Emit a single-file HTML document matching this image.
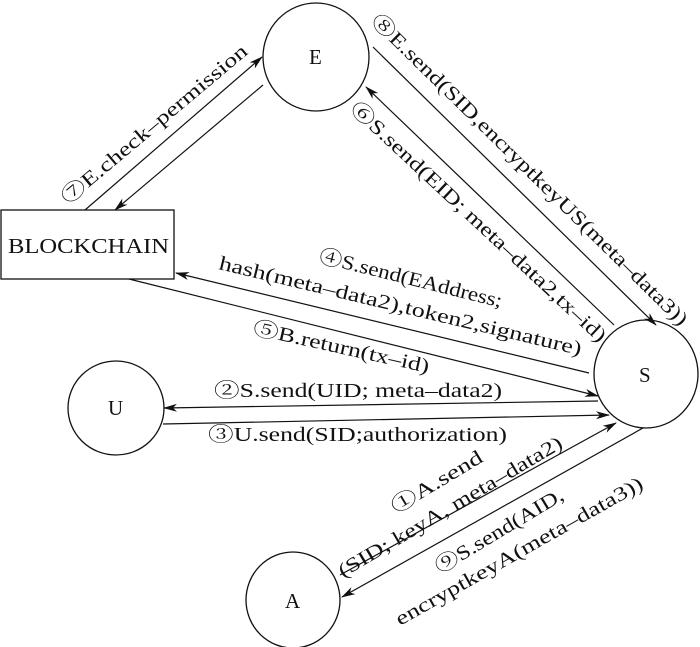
<!DOCTYPE html>
<html><head><meta charset="utf-8"><style>
html,body{margin:0;padding:0;background:#fff;}
svg{display:block;}
text{font-family:"Liberation Serif","Noto Serif CJK SC","DejaVu Serif",serif;font-size:20px;fill:#111;}
</style></head><body>
<svg width="700" height="647" viewBox="0 0 700 647" xmlns="http://www.w3.org/2000/svg">
<defs>
<marker id="ar" markerWidth="14" markerHeight="8" refX="13" refY="4" orient="auto" markerUnits="userSpaceOnUse">
<path d="M0,0 L14,4 L0,8 L4,4 Z" fill="#111"/>
</marker>
</defs>
<g fill="none" stroke="#111" stroke-width="1.3">
<ellipse cx="316" cy="57" rx="53" ry="54"/>
<ellipse cx="646" cy="374" rx="52" ry="54"/>
<ellipse cx="116" cy="408" rx="48" ry="47"/>
<ellipse cx="293" cy="600" rx="47" ry="48"/>
<rect x="1" y="210" width="173" height="69"/>
</g>
<g stroke="#111" stroke-width="1.2" marker-end="url(#ar)">
<line x1="85" y1="210" x2="262" y2="57"/>
<line x1="263" y1="85" x2="115" y2="210"/>
<line x1="373" y1="47" x2="656" y2="325"/>
<line x1="614" y1="325" x2="366" y2="87"/>
<line x1="589" y1="373" x2="176" y2="273"/>
<line x1="129" y1="279" x2="598" y2="396"/>
<line x1="598" y1="401" x2="164" y2="408"/>
<line x1="163" y1="424" x2="609" y2="415"/>
<line x1="340" y1="575" x2="616" y2="423"/>
<line x1="643" y1="428" x2="342" y2="597"/>
</g>
<text style="font-size:21px" transform="translate(8,253)" textLength="161" lengthAdjust="spacingAndGlyphs">BLOCKCHAIN</text>
<text style="font-size:21px" transform="translate(309,64)">E</text>
<text style="font-size:21px" transform="translate(639,382)">S</text>
<text style="font-size:21px" transform="translate(108,415)">U</text>
<text style="font-size:21px" transform="translate(285,608)">A</text>

<text transform="translate(68,205) rotate(-40)" textLength="236" lengthAdjust="spacingAndGlyphs">⑦E.check–permission</text>
<text transform="translate(370,22) rotate(44.5)" textLength="435" lengthAdjust="spacingAndGlyphs">⑧E.send(SID,encryptkeyUS(meta–data3))</text>
<text transform="translate(349,110) rotate(43)" textLength="342" lengthAdjust="spacingAndGlyphs">⑥S.send(EID; meta–data2,tx–id)</text>
<text transform="translate(318,262) rotate(14)" textLength="188" lengthAdjust="spacingAndGlyphs">④S.send(EAddress;</text>
<text transform="translate(218,269) rotate(13.4)" textLength="372" lengthAdjust="spacingAndGlyphs">hash(meta–data2),token2,signature)</text>
<text transform="translate(252,334) rotate(12.5)" textLength="180" lengthAdjust="spacingAndGlyphs">⑤B.return(tx–id)</text>
<text transform="translate(214,397)" textLength="288" lengthAdjust="spacingAndGlyphs">②S.send(UID; meta–data2)</text>
<text transform="translate(208,441)" textLength="299" lengthAdjust="spacingAndGlyphs">③U.send(SID;authorization)</text>
<text transform="translate(396,514) rotate(-31)" textLength="103" lengthAdjust="spacingAndGlyphs">①A.send</text>
<text transform="translate(343,578) rotate(-30.7)" textLength="257" lengthAdjust="spacingAndGlyphs">(SID; keyA, meta–data2)</text>
<text transform="translate(440,574) rotate(-31)" textLength="146" lengthAdjust="spacingAndGlyphs">⑨S.send(AID,</text>
<text transform="translate(400,626) rotate(-29.5)" textLength="281" lengthAdjust="spacingAndGlyphs">encryptkeyA(meta–data3))</text>
</svg>
</body></html>
